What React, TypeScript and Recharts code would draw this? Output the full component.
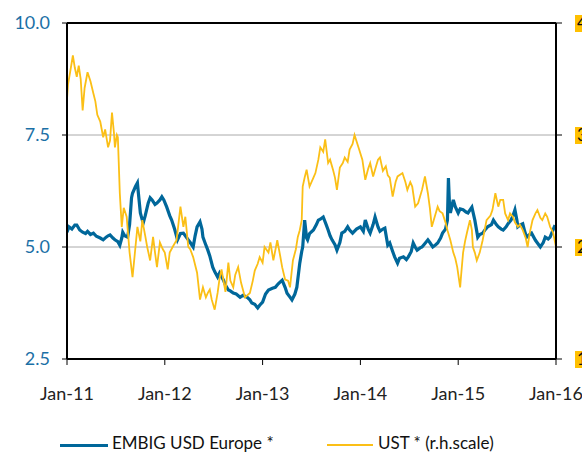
import React from 'react';
import { LineChart, Line, XAxis, YAxis, CartesianGrid, ReferenceLine } from 'recharts';

// time in years since Jan-11
const embigDates = [
  0.00, 0.02, 0.05, 0.08, 0.10, 0.13, 0.16, 0.19, 0.21, 0.24, 0.27, 0.30, 0.34, 0.37, 0.40, 0.42, 0.44, 0.47, 0.49, 0.52,
  0.54, 0.56, 0.57, 0.59, 0.62, 0.64, 0.66, 0.67, 0.70, 0.72, 0.73, 0.75, 0.77, 0.78, 0.80, 0.83, 0.85, 0.87, 0.90, 0.92,
  0.95, 0.97, 0.99, 1.02, 1.05, 1.07, 1.10, 1.13, 1.16, 1.19, 1.21, 1.24, 1.26, 1.29, 1.31, 1.33, 1.36, 1.38, 1.39, 1.41,
  1.44, 1.46, 1.49, 1.51, 1.54, 1.56, 1.60, 1.62, 1.65, 1.67, 1.70, 1.73, 1.77, 1.80, 1.84, 1.87, 1.89, 1.92, 1.95, 1.97,
  2.00, 2.03, 2.06, 2.10, 2.13, 2.16, 2.20, 2.23, 2.25, 2.28, 2.30, 2.33, 2.35, 2.38, 2.40, 2.41, 2.43, 2.45, 2.46, 2.48,
  2.52, 2.55, 2.57, 2.59, 2.62, 2.65, 2.67, 2.69, 2.71, 2.74, 2.76, 2.79, 2.81, 2.84, 2.87, 2.89, 2.92, 2.96, 3.00, 3.03,
  3.05, 3.08, 3.10, 3.13, 3.15, 3.18, 3.20, 3.23, 3.25, 3.28, 3.30, 3.33, 3.35, 3.38, 3.40, 3.44, 3.47, 3.49, 3.52, 3.54,
  3.56, 3.58, 3.61, 3.63, 3.66, 3.69, 3.71, 3.74, 3.77, 3.79, 3.82, 3.84, 3.87, 3.89, 3.90, 3.91, 3.92, 3.95, 3.97, 4.00,
  4.02, 4.05, 4.08, 4.10, 4.14, 4.17, 4.20, 4.22, 4.25, 4.28, 4.30, 4.34, 4.36, 4.39, 4.41, 4.44, 4.46, 4.49, 4.51, 4.54,
  4.56, 4.58, 4.60, 4.61, 4.64, 4.66, 4.68, 4.70, 4.73, 4.75, 4.79, 4.81, 4.84, 4.87, 4.89, 4.92, 4.94, 4.97, 4.99,
];
const embigValues = [
  5.33, 5.45, 5.40, 5.49, 5.49, 5.38, 5.33, 5.30, 5.35, 5.28, 5.31, 5.24, 5.20, 5.16, 5.22, 5.25, 5.27, 5.20, 5.16, 5.12,
  5.04, 5.20, 5.33, 5.25, 5.22, 5.50, 6.10, 6.20, 6.35, 6.43, 6.20, 5.76, 5.60, 5.54, 5.70, 5.98, 6.10, 6.05, 5.95, 5.98,
  6.05, 6.12, 6.05, 5.89, 5.70, 5.60, 5.40, 5.16, 5.30, 5.31, 5.25, 5.16, 5.10, 5.00, 5.25, 5.45, 5.56, 5.40, 5.22, 5.10,
  4.93, 4.80, 4.55, 4.45, 4.33, 4.42, 4.26, 4.15, 4.04, 4.02, 3.97, 3.95, 3.88, 3.92, 3.88, 3.82, 3.75, 3.72, 3.64, 3.70,
  3.77, 3.95, 4.04, 4.08, 4.10, 4.18, 4.26, 4.10, 3.97, 3.88, 3.82, 3.95, 4.10, 4.64, 4.90, 5.00, 5.60, 5.20, 5.16, 5.30,
  5.38, 5.50, 5.60, 5.62, 5.67, 5.50, 5.38, 5.25, 5.16, 5.05, 4.93, 5.10, 5.31, 5.35, 5.45, 5.38, 5.31, 5.40, 5.45, 5.35,
  5.60, 5.40, 5.31, 5.50, 5.67, 5.45, 5.35, 5.40, 5.42, 5.04, 5.09, 4.90, 4.78, 4.64, 4.75, 4.78, 4.72, 4.78, 4.90, 5.09,
  5.00, 4.93, 4.98, 5.00, 5.08, 5.16, 5.10, 5.00, 5.05, 5.09, 5.20, 5.31, 5.40, 5.60, 6.54, 6.00, 5.76, 6.05, 5.90, 5.76,
  5.85, 5.83, 5.78, 5.76, 5.89, 5.60, 5.22, 5.28, 5.31, 5.40, 5.45, 5.50, 5.60, 5.50, 5.45, 5.40, 5.38, 5.45, 5.52, 5.60,
  5.70, 5.83, 5.60, 5.45, 5.50, 5.52, 5.35, 5.22, 5.28, 5.31, 5.15, 5.09, 5.00, 5.10, 5.22, 5.18, 5.22, 5.38, 5.49,
];

const ustDates = [
  0.00, 0.01, 0.03, 0.06, 0.08, 0.10, 0.12, 0.14, 0.16, 0.18, 0.21, 0.24, 0.27, 0.29, 0.31, 0.34, 0.37, 0.39, 0.42, 0.44,
  0.46, 0.48, 0.49, 0.51, 0.52, 0.54, 0.56, 0.58, 0.61, 0.64, 0.67, 0.70, 0.72, 0.75, 0.77, 0.80, 0.82, 0.85, 0.88, 0.90,
  0.92, 0.95, 0.98, 1.00, 1.03, 1.05, 1.08, 1.12, 1.16, 1.19, 1.21, 1.24, 1.26, 1.29, 1.33, 1.36, 1.39, 1.42, 1.44, 1.46,
  1.48, 1.51, 1.54, 1.56, 1.58, 1.62, 1.65, 1.67, 1.70, 1.72, 1.75, 1.78, 1.82, 1.87, 1.90, 1.92, 1.95, 1.97, 2.00, 2.02,
  2.06, 2.08, 2.11, 2.15, 2.18, 2.20, 2.23, 2.26, 2.28, 2.31, 2.34, 2.36, 2.38, 2.40, 2.41, 2.43, 2.45, 2.48, 2.52, 2.54,
  2.57, 2.59, 2.62, 2.64, 2.67, 2.69, 2.72, 2.74, 2.76, 2.79, 2.82, 2.84, 2.87, 2.89, 2.92, 2.94, 2.98, 3.02, 3.05, 3.08,
  3.10, 3.13, 3.16, 3.18, 3.20, 3.23, 3.26, 3.28, 3.30, 3.33, 3.36, 3.38, 3.43, 3.46, 3.48, 3.51, 3.53, 3.56, 3.59, 3.61,
  3.63, 3.66, 3.69, 3.71, 3.73, 3.76, 3.79, 3.81, 3.84, 3.87, 3.89, 3.92, 3.95, 3.97, 3.99, 4.01, 4.02, 4.03, 4.05, 4.07,
  4.09, 4.12, 4.14, 4.15, 4.17, 4.19, 4.22, 4.25, 4.27, 4.29, 4.33, 4.35, 4.38, 4.40, 4.41, 4.43, 4.46, 4.48, 4.51, 4.53,
  4.56, 4.58, 4.61, 4.63, 4.66, 4.69, 4.71, 4.73, 4.76, 4.79, 4.81, 4.84, 4.86, 4.89, 4.91, 4.94, 4.97, 5.00,
];
const ustValues = [
  3.32, 3.45, 3.55, 3.71, 3.60, 3.52, 3.62, 3.50, 3.22, 3.42, 3.56, 3.48, 3.37, 3.30, 3.18, 3.12, 2.98, 3.05, 2.89, 2.95,
  3.20, 3.02, 2.89, 3.00, 2.98, 2.48, 2.18, 2.35, 2.27, 1.95, 1.73, 2.00, 2.18, 2.05, 2.24, 2.10, 2.00, 1.88, 2.09, 1.95,
  1.82, 2.04, 1.98, 1.95, 1.80, 1.95, 2.00, 2.06, 2.36, 2.18, 2.27, 2.00, 1.98, 1.91, 1.77, 1.53, 1.64, 1.55, 1.59, 1.62,
  1.53, 1.44, 1.59, 1.72, 1.80, 1.60, 1.86, 1.70, 1.64, 1.75, 1.82, 1.68, 1.55, 1.59, 1.70, 1.79, 1.85, 1.91, 1.86, 2.00,
  1.95, 2.04, 1.88, 2.06, 1.92, 1.82, 1.71, 1.70, 1.64, 1.88, 1.98, 2.09, 2.15, 2.24, 2.54, 2.62, 2.69, 2.54, 2.62, 2.66,
  2.78, 2.89, 2.85, 2.96, 2.75, 2.78, 2.69, 2.62, 2.51, 2.71, 2.75, 2.80, 2.76, 2.87, 2.92, 3.00, 2.89, 2.78, 2.60, 2.70,
  2.75, 2.63, 2.72, 2.78, 2.80, 2.68, 2.72, 2.64, 2.62, 2.45, 2.58, 2.63, 2.66, 2.58, 2.51, 2.58, 2.54, 2.36, 2.39, 2.45,
  2.51, 2.63, 2.48, 2.35, 2.18, 2.27, 2.36, 2.32, 2.30, 2.22, 2.15, 2.06, 1.95, 1.90, 1.82, 1.70, 1.64, 1.75, 1.95, 2.05,
  2.13, 2.24, 2.15, 2.00, 1.95, 1.88, 1.95, 2.06, 2.15, 2.24, 2.28, 2.33, 2.48, 2.40, 2.36, 2.42, 2.42, 2.30, 2.24, 2.30,
  2.27, 2.22, 2.18, 2.20, 2.15, 2.08, 2.00, 2.12, 2.24, 2.30, 2.33, 2.26, 2.24, 2.30, 2.27, 2.18, 2.13, 2.00,
];

const xTicks = [0, 1, 2, 3, 4, 5];
const xLabels = ['Jan-11', 'Jan-12', 'Jan-13', 'Jan-14', 'Jan-15', 'Jan-16'];
const leftTicks = [2.5, 5, 7.5, 10];
const rightTicks = [1, 2, 3, 4];

const BLUE = '#00679a';
const YELLOW = '#fbbf16';
const FONT = 'Lato, "Noto Sans", sans-serif';

const embigData = embigDates.map((t, i) => ({ t, embig: embigValues[i] }));
const ustData = ustDates.map((t, i) => ({ t, ust: ustValues[i] }));

const RightTick = (props: any) => {
  const { x, y, payload } = props;
  return (
    <g>
      <rect x={x + 1} y={y - 8} width={14} height={17} fill="#ffc000" />
      <text x={x + 3} y={y} dy="0.36em" fontSize={17} fill="#111" fontFamily={FONT}>
        {payload.value}
      </text>
    </g>
  );
};

export default function App() {
  return (
    <div style={{ position: 'absolute', left: 0, top: 0, width: 582, height: 452, overflow: 'hidden', background: '#fff' }}>
      <LineChart width={582} height={452} margin={{ top: 23, right: 0, bottom: 0, left: 0 }}>
        <CartesianGrid horizontal vertical={false} stroke="#aaaaaa" yAxisId="left" />
        <XAxis
          type="number"
          dataKey="t"
          domain={[0, 5]}
          ticks={xTicks}
          interval={0}
          tickFormatter={(v) => xLabels[v]}
          height={93}
          axisLine={{ stroke: '#000', strokeWidth: 2 }}
          tickLine={{ stroke: '#000' }}
          tickSize={6}
          tickMargin={22}
          tick={{ fontSize: 18, fill: '#222', fontFamily: FONT }}
          allowDataOverflow
        />
        <YAxis
          yAxisId="left"
          orientation="left"
          domain={[2.5, 10]}
          ticks={leftTicks}
          interval={0}
          width={67}
          tickFormatter={(v) => v.toFixed(1)}
          axisLine={{ stroke: '#000', strokeWidth: 2 }}
          tickLine={{ stroke: '#000' }}
          tickSize={5}
          tickMargin={12}
          tick={{ fontSize: 18, fill: '#1b70a6', fontFamily: FONT }}
        />
        <YAxis
          yAxisId="right"
          orientation="right"
          domain={[1, 4]}
          ticks={rightTicks}
          interval={0}
          width={26}
          axisLine={{ stroke: '#000', strokeWidth: 2 }}
          tickLine={{ stroke: '#000' }}
          tickSize={6}
          tickMargin={12}
          tick={<RightTick />}
        />
        <ReferenceLine yAxisId="left" y={10} stroke="#000" strokeWidth={2} />
        <Line
          yAxisId="left"
          data={embigData}
          dataKey="embig"
          stroke={BLUE}
          strokeWidth={3.2}
          dot={false}
          isAnimationActive={false}
        />
        <Line
          yAxisId="right"
          data={ustData}
          dataKey="ust"
          stroke={YELLOW}
          strokeWidth={1.8}
          dot={false}
          isAnimationActive={false}
        />
      </LineChart>
      <div
        style={{
          position: 'absolute',
          top: 432,
          left: 0,
          width: 582,
          fontFamily: FONT,
          fontSize: 17,
          color: '#111',
          whiteSpace: 'nowrap',
        }}
      >
        <span style={{ position: 'absolute', left: 60, top: 12, width: 48, height: 3, background: BLUE }} />
        <span style={{ position: 'absolute', left: 112, top: 0 }}>EMBIG USD Europe *</span>
        <span style={{ position: 'absolute', left: 327, top: 12, width: 46, height: 2, background: YELLOW }} />
        <span style={{ position: 'absolute', left: 378, top: 0 }}>UST * (r.h.scale)</span>
      </div>
    </div>
  );
}
